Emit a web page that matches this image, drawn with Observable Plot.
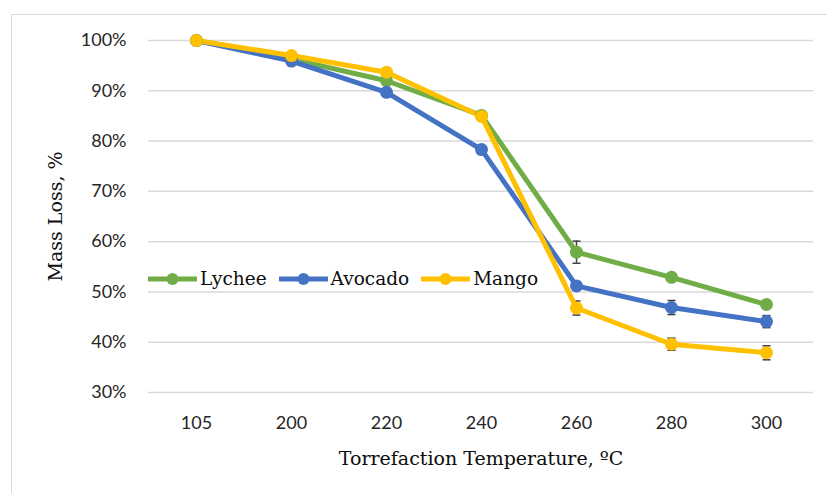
<!DOCTYPE html>
<html>
<head>
<meta charset="utf-8">
<script src="https://cdn.jsdelivr.net/npm/d3@7"></script>
<script src="https://cdn.jsdelivr.net/npm/@observablehq/plot@0.6"></script>
<style>
  html, body { margin: 0; padding: 0; background: #fff; overflow: hidden; }
  #wrap { position: relative; width: 827px; height: 493px; }
  #frame { position: absolute; left: 11px; top: 14px; width: 900px; height: 600px;
           border-top: 1.5px solid #d9d9d9; border-left: 1.5px solid #d9d9d9; }
  #chart { position: absolute; left: 0; top: 0; }
  #chart svg g[aria-label="x-axis label"] text,
  #chart svg g[aria-label="y-axis label"] text { font-family: "DejaVu Serif", serif; font-size: 19px; fill: #0d0d0d; }
  #legend { position: absolute; left: 148px; top: 268px; display: flex; align-items: center; gap: 12px;
            font-family: "DejaVu Serif", serif; font-size: 18.5px; color: #0d0d0d; }
  #legend .item { display: flex; align-items: center; gap: 3px; }
</style>
</head>
<body>
<div id="wrap">
  <div id="frame"></div>
  <div id="chart"></div>
  <div id="legend"></div>
</div>
<script>
const categories = ["105", "200", "220", "240", "260", "280", "300"];
const seriesNames = ["Lychee", "Avocado", "Mango"];
const seriesColors = ["#70AD47", "#4472C4", "#FFC000"];
const lychee = [100, 96.3, 92.0, 85.1, 57.9, 52.9, 47.5];
const avocado = [100, 95.9, 89.7, 78.3, 51.2, 46.9, 44.1];
const mango = [100, 97.0, 93.7, 84.9, 46.8, 39.6, 37.9];
const lycheeErr = [0, 0.3, 0.3, 0.3, 2.2, 0.5, 0.5];
const avocadoErr = [0, 0.3, 0.3, 0.3, 0.5, 1.4, 1.2];
const mangoErr = [0, 0.3, 0.3, 0.3, 1.4, 1.2, 1.4];
const yTicks = [30, 40, 50, 60, 70, 80, 90, 100];

const values = [lychee, avocado, mango];
const errs = [lycheeErr, avocadoErr, mangoErr];
const rows = [];
seriesNames.forEach((s, i) => {
  categories.forEach((c, j) => {
    rows.push({series: s, temp: c, value: values[i][j], err: errs[i][j]});
  });
});

// horizontal cap symbol for error bars
const capSymbol = {
  draw(context, size) {
    const w = Math.sqrt(size / Math.PI);
    context.moveTo(-w, 0);
    context.lineTo(w, 0);
  }
};

const chart = Plot.plot({
  width: 827,
  height: 493,
  marginLeft: 148,
  marginRight: 14,
  marginTop: 40,
  marginBottom: 101,
  style: {fontFamily: "Lato", fontSize: "18px", color: "#262626", background: "transparent"},
  x: {type: "point", domain: categories, padding: 0.5},
  y: {domain: [30, 100]},
  color: {domain: seriesNames, range: seriesColors},
  marks: [
    Plot.gridY(yTicks, {stroke: "#d9d9d9", strokeOpacity: 1, strokeWidth: 1.5}),
    Plot.axisY(yTicks, {tickSize: 0, tickPadding: 22, tickFormat: d => d + "%",
      label: "Mass Loss, %", labelAnchor: "center", labelArrow: "none", labelOffset: 100}),
    Plot.axisX({tickSize: 0, tickPadding: 24,
      label: "Torrefaction Temperature, ºC", labelAnchor: "center", labelArrow: "none", labelOffset: 72}),
    Plot.ruleX(rows, {x: "temp", y1: d => d.value - d.err, y2: d => d.value + d.err, stroke: "#404040", strokeWidth: 1.5}),
    Plot.dot(rows, {x: "temp", y: d => d.value - d.err, symbol: capSymbol, r: 4, stroke: "#404040", strokeWidth: 1.5}),
    Plot.dot(rows, {x: "temp", y: d => d.value + d.err, symbol: capSymbol, r: 4, stroke: "#404040", strokeWidth: 1.5}),
    Plot.line(rows, {x: "temp", y: "value", z: "series", stroke: "series", strokeWidth: 5, strokeLinejoin: "round"}),
    Plot.dot(rows, {x: "temp", y: "value", fill: "series", r: 6.5})
  ]
});
document.getElementById("chart").appendChild(chart);

const legend = document.getElementById("legend");
seriesNames.forEach((s, i) => {
  const item = document.createElement("div");
  item.className = "item";
  item.innerHTML = `<svg width="49" height="14"><line x1="1" y1="7" x2="48" y2="7" stroke="${seriesColors[i]}" stroke-width="5" stroke-linecap="round"/><circle cx="24.5" cy="7" r="6" fill="${seriesColors[i]}"/></svg><span>${s}</span>`;
  legend.appendChild(item);
});
</script>
</body>
</html>
